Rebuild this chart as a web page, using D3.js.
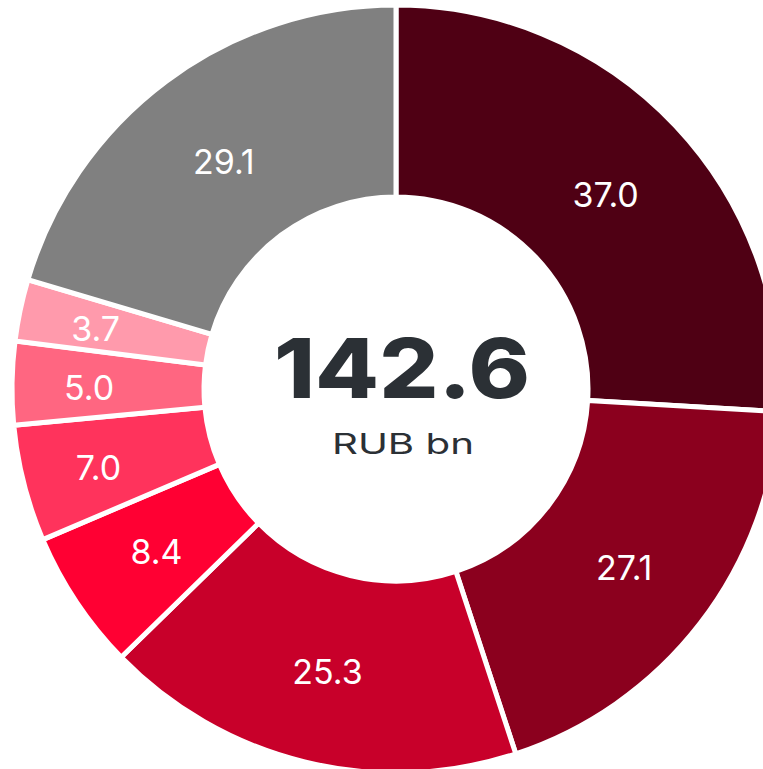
<!DOCTYPE html>
<html>
<head>
<meta charset="utf-8">
<script src="https://cdn.jsdelivr.net/npm/d3@7"></script>
<style>
  body { margin: 0; background: #fff; }
  svg { display: block; }
  text { font-family: Inter, "Noto Sans", sans-serif; }
</style>
</head>
<body>
<div id="wrapper"></div>
<script>
const values = [37.0, 27.1, 25.3, 8.4, 7.0, 5.0, 3.7, 29.1];
const colors = ["#4f0014", "#8b001e", "#c8002a", "#ff0033", "#ff335c", "#ff6681", "#ff9aac", "#808080"];
const totalLabel = "142.6";
const unitLabel = "RUB bn";

function drawDonut() {
  const width = 763;
  const height = 769;
  const cx = 396;
  const cy = 389;
  const outerRadius = 384;
  const innerRadius = 192;

  const svg = d3
    .select("#wrapper")
    .append("svg")
    .attr("width", width)
    .attr("height", height);

  const bounds = svg.append("g").attr("transform", `translate(${cx},${cy})`);

  const pie = d3.pie().sort(null).value((d) => d);
  const arcs = pie(values);

  const arc = d3.arc().innerRadius(innerRadius).outerRadius(outerRadius);
  const midRadius = (innerRadius + outerRadius) / 2;
  const labelArc = d3.arc().innerRadius(midRadius).outerRadius(midRadius);
  // thin slices get their labels pushed outward a bit
  const thinArc = d3.arc().innerRadius(307).outerRadius(307);

  bounds
    .selectAll("path")
    .data(arcs)
    .join("path")
    .attr("d", arc)
    .attr("fill", (d, i) => colors[i])
    .attr("stroke", "#fff")
    .attr("stroke-width", 5)
    .attr("stroke-linejoin", "miter");

  bounds
    .selectAll("text.value")
    .data(arcs)
    .join("text")
    .attr("class", "value")
    .attr("transform", (d) => {
      const span = d.endAngle - d.startAngle;
      const [x, y] = span < 0.33 && d.index > 3 ? thinArc.centroid(d) : labelArc.centroid(d);
      return `translate(${x},${y + 3})`;
    })
    .attr("text-anchor", "middle")
    .attr("dominant-baseline", "central")
    .attr("fill", "#fff")
    .attr("font-size", 34)
    .text((d) => d.data.toFixed(1));

  bounds
    .append("text")
    .attr("x", 6)
    .attr("y", 9)
    .attr("text-anchor", "middle")
    .attr("fill", "#2b3035")
    .attr("font-size", 82)
    .attr("font-weight", 800)
    .attr("textLength", 256)
    .attr("lengthAdjust", "spacingAndGlyphs")
    .text(totalLabel);

  bounds
    .append("text")
    .attr("x", 7)
    .attr("y", 65)
    .attr("text-anchor", "middle")
    .attr("fill", "#2b3035")
    .attr("font-size", 28)
    .attr("textLength", 142)
    .attr("lengthAdjust", "spacingAndGlyphs")
    .text(unitLabel);
}

drawDonut();
</script>
</body>
</html>
